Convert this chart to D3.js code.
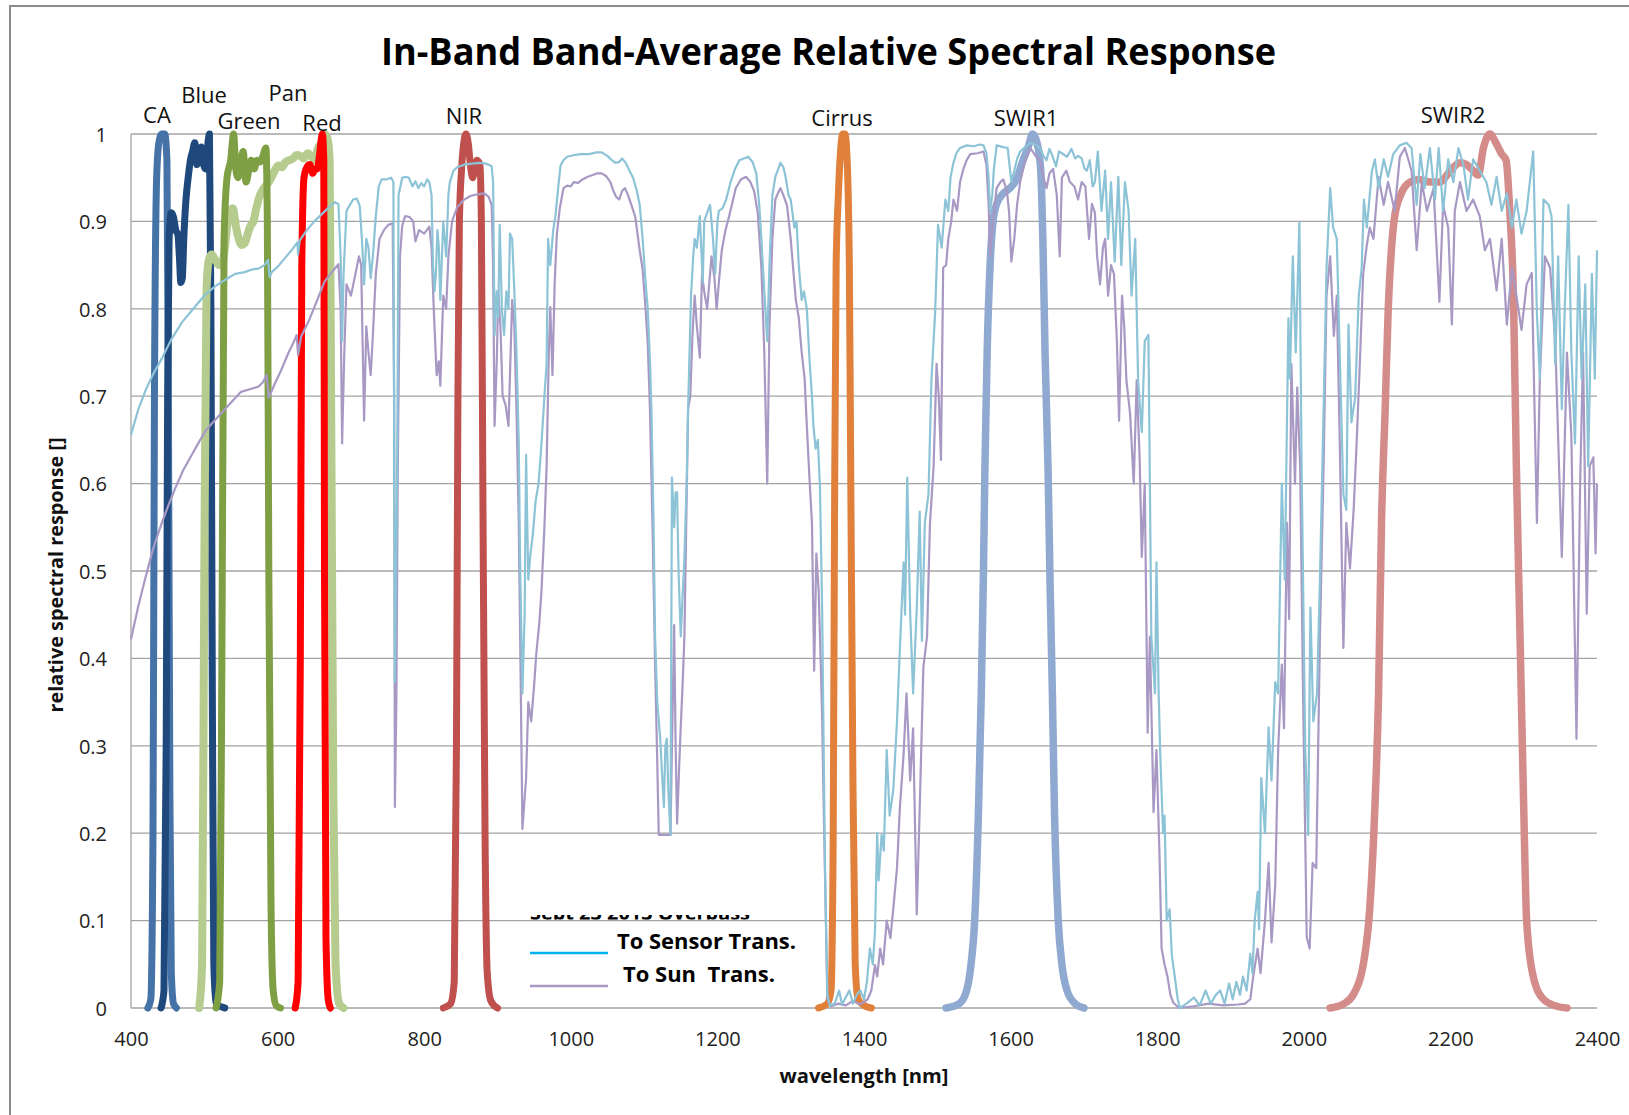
<!DOCTYPE html>
<html><head><meta charset="utf-8">
<script src="https://cdn.jsdelivr.net/npm/d3@7"></script>
<style>body{margin:0;background:#fff}svg{display:block}</style>
</head><body>
<svg id="c" width="1629" height="1115"></svg>
<script>
// ---------------- DATA ----------------
const xTickValues = [400,600,800,1000,1200,1400,1600,1800,2000,2200,2400];
const xTickLabels = ["400","600","800","1000","1200","1400","1600","1800","2000","2200","2400"];
const yTickValues = [0,0.1,0.2,0.3,0.4,0.5,0.6,0.7,0.8,0.9,1];
const yTickLabels = ["0","0.1","0.2","0.3","0.4","0.5","0.6","0.7","0.8","0.9","1"];
const bandNames = ["CA","Blue","Green","Pan","Red","NIR","Cirrus","SWIR1","SWIR2"];

const CA = [[423,0],[427,0.01],[430,0.2],[432,0.7],[435,0.95],[438,0.99],[442,1],[446,1],[449,0.97],[451,0.7],[453,0.25],[455,0.04],[458,0.005],[462,0]];
const Blue = [[441,0],[445,0.02],[448,0.3],[450,0.7],[452,0.88],[455,0.91],[458,0.905],[461,0.89],[464,0.885],[466,0.86],[468,0.83],[470,0.835],[472,0.88],[475,0.925],[478,0.95],[481,0.97],[484,0.98],[487,0.99],[490,0.965],[493,0.975],[496,0.985],[499,0.965],[502,0.96],[505,0.99],[507,1],[509,0.8],[511,0.35],[513,0.05],[516,0.005],[528,0]];
const Green = [[516,0],[521,0.03],[524,0.4],[527,0.88],[531,0.95],[536,0.97],[540,1],[543,0.96],[546,0.95],[550,0.97],[553,0.98],[557,0.945],[561,0.96],[564,0.97],[568,0.96],[572,0.97],[576,0.968],[580,0.975],[584,0.984],[586,0.9],[588,0.5],[591,0.12],[594,0.02],[598,0.003],[604,0]];
const Pan = [[493,0],[497,0.05],[500,0.5],[503,0.82],[506,0.855],[510,0.862],[515,0.856],[520,0.85],[524,0.85],[528,0.87],[532,0.9],[535,0.912],[539,0.915],[543,0.895],[547,0.88],[551,0.873],[555,0.875],[559,0.885],[563,0.895],[567,0.9],[571,0.915],[575,0.928],[579,0.935],[583,0.94],[588,0.945],[592,0.951],[596,0.958],[601,0.964],[606,0.962],[611,0.968],[616,0.97],[621,0.972],[626,0.976],[631,0.975],[636,0.972],[641,0.978],[646,0.975],[651,0.97],[655,0.984],[660,0.99],[664,1],[668,0.995],[671,0.97],[673,0.7],[676,0.25],[679,0.05],[684,0.005],[690,0]];
const Red = [[624,0],[628,0.03],[631,0.4],[633,0.85],[636,0.95],[640,0.962],[644,0.965],[648,0.955],[651,0.96],[654,0.96],[657,0.975],[659,0.99],[661,1],[663,0.97],[664,0.5],[666,0.08],[669,0.01],[672,0]];
const NIR = [[826,0],[836,0.005],[841,0.03],[844,0.3],[846,0.7],[848,0.9],[851,0.96],[854,0.99],[857,1],[860,0.99],[863,0.965],[866,0.95],[869,0.96],[872,0.97],[876,0.965],[878,0.9],[880,0.6],[883,0.2],[886,0.04],[891,0.008],[900,0]];
const Cirrus = [[1338,0],[1350,0.005],[1355,0.02],[1358,0.2],[1360,0.6],[1362,0.85],[1365,0.93],[1368,0.98],[1371,1],[1374,1],[1377,0.97],[1380,0.85],[1382,0.6],[1385,0.25],[1388,0.05],[1392,0.01],[1400,0.003],[1410,0]];
const SWIR1 = [[1512,0],[1530,0.005],[1540,0.02],[1546,0.05],[1551,0.1],[1556,0.22],[1560,0.36],[1563,0.5],[1565,0.62],[1568,0.75],[1572,0.85],[1576,0.9],[1581,0.92],[1590,0.932],[1599,0.938],[1608,0.948],[1617,0.97],[1624,0.985],[1630,1],[1636,0.99],[1641,0.96],[1644,0.88],[1647,0.75],[1651,0.62],[1654,0.48],[1657,0.36],[1660,0.22],[1665,0.1],[1670,0.05],[1677,0.02],[1688,0.005],[1700,0]];
const SWIR2 = [[2036,0],[2055,0.005],[2068,0.016],[2081,0.049],[2090,0.114],[2097,0.23],[2102,0.36],[2106,0.555],[2111,0.685],[2115,0.795],[2120,0.873],[2124,0.906],[2133,0.932],[2145,0.945],[2158,0.948],[2172,0.945],[2186,0.945],[2200,0.958],[2213,0.967],[2222,0.965],[2231,0.958],[2238,0.953],[2245,0.984],[2254,1],[2262,0.99],[2270,0.977],[2276,0.97],[2281,0.912],[2286,0.815],[2290,0.62],[2295,0.425],[2300,0.23],[2304,0.1],[2313,0.036],[2327,0.01],[2345,0.002],[2359,0]];

const toSensor = [[400,0.656],[410,0.685],[420,0.707],[430,0.725],[442,0.743],[455,0.765],[470,0.785],[485,0.8],[501,0.816],[515,0.826],[528,0.833],[542,0.84],[555,0.842],[565,0.845],[574,0.846],[582,0.85],[587,0.856],[589,0.836],[592,0.842],[600,0.848],[610,0.858],[620,0.868],[627,0.876],[628,0.862],[630,0.878],[640,0.89],[650,0.9],[660,0.908],[670,0.916],[678,0.922],[683,0.92],[686,0.86],[688,0.763],[690,0.84],[694,0.912],[698,0.918],[703,0.925],[708,0.926],[712,0.918],[715,0.88],[718,0.828],[721,0.88],[724,0.87],[727,0.835],[730,0.86],[734,0.906],[738,0.94],[742,0.948],[748,0.948],[755,0.95],[758,0.945],[760,0.373],[763,0.6],[765,0.93],[770,0.95],[775,0.951],[779,0.95],[784,0.94],[788,0.946],[792,0.938],[796,0.944],[800,0.94],[804,0.948],[807,0.945],[810,0.93],[812,0.85],[814,0.82],[816,0.84],[818,0.89],[820,0.87],[822,0.81],[826,0.9],[830,0.86],[833,0.93],[835,0.945],[840,0.958],[845,0.962],[855,0.965],[865,0.966],[875,0.967],[885,0.966],[892,0.963],[894,0.945],[896,0.77],[899,0.82],[901,0.79],[903,0.896],[906,0.8],[909,0.77],[912,0.82],[915,0.8],[917,0.886],[920,0.88],[923,0.82],[926,0.75],[929,0.646],[931,0.5],[934,0.36],[937,0.45],[939,0.633],[942,0.49],[945,0.52],[948,0.54],[952,0.58],[956,0.6],[960,0.646],[964,0.7],[967,0.737],[969,0.88],[972,0.85],[976,0.89],[979,0.906],[983,0.94],[986,0.964],[990,0.97],[995,0.974],[1005,0.976],[1014,0.977],[1025,0.977],[1035,0.979],[1042,0.979],[1050,0.975],[1056,0.97],[1061,0.967],[1066,0.968],[1070,0.972],[1075,0.967],[1080,0.958],[1085,0.95],[1090,0.935],[1094,0.919],[1098,0.88],[1102,0.83],[1105,0.8],[1108,0.74],[1110,0.685],[1113,0.55],[1115,0.425],[1118,0.35],[1122,0.308],[1125,0.26],[1127,0.23],[1129,0.3],[1131,0.308],[1133,0.25],[1136,0.198],[1138,0.607],[1141,0.55],[1143,0.59],[1145,0.59],[1147,0.5],[1150,0.425],[1153,0.48],[1155,0.516],[1158,0.6],[1160,0.685],[1162,0.75],[1164,0.815],[1167,0.86],[1169,0.88],[1172,0.87],[1176,0.906],[1180,0.83],[1182,0.9],[1186,0.91],[1190,0.919],[1194,0.88],[1197,0.84],[1200,0.9],[1202,0.912],[1207,0.915],[1212,0.925],[1218,0.945],[1224,0.96],[1230,0.97],[1236,0.972],[1242,0.974],[1248,0.968],[1253,0.955],[1257,0.92],[1260,0.88],[1264,0.82],[1268,0.763],[1271,0.85],[1275,0.93],[1279,0.951],[1283,0.96],[1286,0.967],[1290,0.962],[1293,0.951],[1297,0.93],[1300,0.925],[1305,0.893],[1308,0.9],[1311,0.85],[1315,0.81],[1318,0.82],[1322,0.8],[1326,0.737],[1329,0.7],[1331,0.666],[1334,0.64],[1337,0.65],[1340,0.594],[1343,0.45],[1345,0.295],[1347,0.15],[1350,0.016],[1353,0.003],[1360,0.005],[1366,0.02],[1370,0.004],[1375,0.012],[1380,0.02],[1385,0.005],[1390,0.015],[1395,0.02],[1400,0.01],[1404,0.03],[1408,0.068],[1412,0.05],[1415,0.088],[1418,0.2],[1420,0.146],[1424,0.198],[1427,0.18],[1431,0.295],[1435,0.22],[1440,0.25],[1445,0.328],[1449,0.412],[1454,0.51],[1456,0.45],[1459,0.607],[1463,0.451],[1467,0.36],[1472,0.458],[1476,0.568],[1479,0.42],[1483,0.555],[1488,0.588],[1492,0.718],[1497,0.795],[1501,0.896],[1506,0.87],[1511,0.925],[1515,0.912],[1518,0.95],[1522,0.967],[1526,0.978],[1531,0.984],[1540,0.987],[1550,0.986],[1558,0.988],[1563,0.987],[1567,0.978],[1570,0.95],[1572,0.912],[1575,0.93],[1577,0.958],[1581,0.987],[1590,0.985],[1596,0.984],[1601,0.945],[1605,0.958],[1609,0.972],[1613,0.98],[1620,0.985],[1627,0.99],[1634,0.988],[1640,0.984],[1645,0.975],[1649,0.97],[1653,0.983],[1657,0.975],[1662,0.963],[1666,0.98],[1670,0.978],[1677,0.974],[1683,0.983],[1688,0.972],[1692,0.975],[1697,0.972],[1701,0.96],[1704,0.958],[1708,0.97],[1712,0.94],[1715,0.945],[1719,0.98],[1724,0.912],[1729,0.958],[1733,0.88],[1737,0.945],[1742,0.854],[1747,0.951],[1751,0.85],[1756,0.945],[1761,0.912],[1765,0.815],[1770,0.88],[1774,0.718],[1779,0.659],[1783,0.763],[1788,0.77],[1790,0.6],[1792,0.425],[1797,0.36],[1799,0.51],[1802,0.36],[1804,0.295],[1808,0.2],[1810,0.22],[1813,0.1],[1817,0.113],[1820,0.06],[1824,0.036],[1828,0.01],[1831,0],[1840,0.005],[1850,0.012],[1858,0.003],[1866,0.02],[1873,0.005],[1880,0.015],[1886,0.02],[1892,0.005],[1898,0.028],[1903,0.01],[1908,0.03],[1913,0.015],[1917,0.036],[1922,0.02],[1927,0.062],[1930,0.04],[1933,0.1],[1937,0.133],[1939,0.09],[1942,0.263],[1947,0.2],[1952,0.321],[1956,0.26],[1961,0.373],[1965,0.36],[1970,0.6],[1974,0.49],[1979,0.789],[1981,0.72],[1985,0.86],[1989,0.75],[1994,0.899],[1997,0.62],[2002,0.295],[2006,0.198],[2009,0.458],[2013,0.328],[2018,0.36],[2022,0.49],[2027,0.685],[2031,0.847],[2036,0.938],[2040,0.893],[2045,0.88],[2049,0.75],[2054,0.588],[2058,0.57],[2061,0.782],[2065,0.67],[2070,0.698],[2075,0.815],[2079,0.847],[2082,0.925],[2086,0.893],[2093,0.958],[2097,0.971],[2102,0.938],[2109,0.971],[2115,0.951],[2122,0.977],[2131,0.987],[2140,0.99],[2147,0.984],[2154,0.919],[2159,0.977],[2165,0.938],[2172,0.984],[2179,0.925],[2184,0.984],[2190,0.912],[2197,0.971],[2204,0.945],[2211,0.984],[2218,0.964],[2224,0.925],[2231,0.971],[2240,0.958],[2249,0.945],[2256,0.919],[2263,0.951],[2270,0.912],[2277,0.932],[2284,0.893],[2290,0.925],[2297,0.886],[2304,0.912],[2313,0.98],[2318,0.795],[2322,0.72],[2327,0.925],[2334,0.919],[2338,0.906],[2343,0.737],[2347,0.86],[2352,0.685],[2356,0.8],[2361,0.919],[2365,0.75],[2370,0.646],[2375,0.86],[2379,0.72],[2384,0.828],[2388,0.62],[2393,0.84],[2397,0.72],[2400,0.867]];

const toSun = [[400,0.422],[410,0.46],[419,0.49],[430,0.525],[442,0.555],[451,0.575],[460,0.594],[471,0.615],[483,0.633],[493,0.648],[503,0.662],[515,0.673],[528,0.685],[540,0.696],[550,0.705],[562,0.708],[574,0.711],[580,0.716],[585,0.724],[588,0.698],[596,0.714],[605,0.73],[615,0.75],[622,0.762],[626,0.77],[628,0.747],[632,0.768],[644,0.789],[654,0.81],[664,0.831],[674,0.842],[683,0.851],[686,0.8],[688,0.646],[691,0.75],[694,0.828],[700,0.815],[705,0.835],[711,0.86],[714,0.85],[716,0.76],[718,0.672],[721,0.78],[724,0.75],[727,0.724],[730,0.77],[734,0.84],[739,0.88],[745,0.89],[751,0.896],[757,0.898],[759,0.7],[760,0.23],[762,0.35],[764,0.62],[767,0.86],[770,0.895],[774,0.906],[780,0.905],[785,0.9],[788,0.877],[793,0.89],[800,0.886],[807,0.894],[810,0.87],[813,0.8],[817,0.724],[820,0.74],[822,0.712],[826,0.815],[830,0.8],[833,0.86],[838,0.9],[845,0.916],[853,0.924],[863,0.929],[872,0.931],[882,0.932],[888,0.928],[892,0.919],[894,0.85],[896,0.666],[899,0.74],[901,0.82],[904,0.78],[907,0.7],[911,0.69],[915,0.666],[920,0.81],[923,0.78],[926,0.68],[929,0.555],[932,0.35],[934,0.205],[937,0.24],[939,0.263],[942,0.35],[946,0.328],[950,0.37],[953,0.406],[957,0.44],[960,0.477],[964,0.55],[967,0.62],[970,0.75],[972,0.802],[975,0.724],[978,0.83],[981,0.886],[985,0.915],[990,0.938],[995,0.941],[1000,0.94],[1004,0.945],[1010,0.944],[1016,0.948],[1023,0.951],[1030,0.953],[1036,0.955],[1042,0.955],[1048,0.952],[1054,0.945],[1058,0.935],[1062,0.928],[1066,0.925],[1070,0.935],[1074,0.938],[1078,0.93],[1083,0.918],[1088,0.905],[1094,0.867],[1098,0.845],[1102,0.8],[1105,0.76],[1108,0.685],[1112,0.53],[1115,0.393],[1118,0.28],[1120,0.198],[1125,0.198],[1130,0.198],[1136,0.198],[1138,0.3],[1141,0.438],[1143,0.3],[1145,0.211],[1148,0.28],[1150,0.321],[1153,0.38],[1155,0.425],[1158,0.58],[1160,0.685],[1163,0.7],[1166,0.77],[1169,0.815],[1172,0.78],[1176,0.744],[1179,0.84],[1182,0.82],[1186,0.8],[1192,0.86],[1196,0.835],[1199,0.8],[1203,0.84],[1206,0.867],[1211,0.89],[1216,0.906],[1220,0.92],[1225,0.938],[1232,0.948],[1239,0.951],[1245,0.945],[1250,0.935],[1255,0.91],[1260,0.847],[1264,0.75],[1268,0.6],[1271,0.78],[1275,0.88],[1279,0.925],[1283,0.933],[1286,0.938],[1290,0.93],[1295,0.918],[1300,0.88],[1304,0.84],[1307,0.81],[1311,0.79],[1315,0.75],[1319,0.72],[1322,0.666],[1326,0.6],[1329,0.555],[1332,0.386],[1335,0.52],[1338,0.48],[1340,0.425],[1343,0.33],[1345,0.23],[1348,0.1],[1350,0.01],[1355,0.002],[1365,0.005],[1375,0.003],[1385,0.008],[1395,0.004],[1405,0.01],[1410,0.02],[1415,0.049],[1418,0.036],[1422,0.068],[1426,0.05],[1431,0.1],[1436,0.08],[1440,0.114],[1445,0.16],[1449,0.23],[1454,0.29],[1458,0.36],[1463,0.26],[1467,0.32],[1472,0.107],[1477,0.26],[1481,0.39],[1486,0.425],[1490,0.555],[1495,0.62],[1499,0.737],[1502,0.7],[1505,0.627],[1508,0.847],[1512,0.85],[1515,0.88],[1519,0.9],[1522,0.925],[1527,0.912],[1531,0.945],[1536,0.961],[1540,0.97],[1545,0.977],[1555,0.978],[1563,0.98],[1567,0.965],[1570,0.92],[1572,0.86],[1576,0.9],[1581,0.938],[1586,0.945],[1590,0.948],[1595,0.935],[1598,0.91],[1601,0.854],[1605,0.88],[1609,0.92],[1613,0.945],[1620,0.97],[1627,0.984],[1634,0.975],[1640,0.97],[1645,0.95],[1649,0.938],[1653,0.955],[1658,0.96],[1663,0.93],[1667,0.86],[1670,0.95],[1676,0.958],[1681,0.945],[1687,0.94],[1692,0.925],[1697,0.945],[1702,0.94],[1707,0.88],[1711,0.92],[1715,0.91],[1718,0.86],[1722,0.828],[1726,0.87],[1729,0.88],[1733,0.815],[1737,0.85],[1741,0.84],[1745,0.763],[1748,0.672],[1752,0.815],[1755,0.78],[1758,0.718],[1763,0.68],[1768,0.6],[1772,0.718],[1776,0.63],[1779,0.516],[1783,0.6],[1787,0.315],[1790,0.425],[1795,0.224],[1799,0.295],[1803,0.18],[1806,0.068],[1810,0.05],[1814,0.036],[1818,0.015],[1822,0.006],[1830,0],[1850,0.002],[1870,0.005],[1890,0.003],[1910,0.004],[1920,0.005],[1927,0.01],[1931,0.036],[1937,0.068],[1941,0.04],[1947,0.1],[1952,0.166],[1956,0.075],[1961,0.14],[1965,0.295],[1970,0.393],[1973,0.32],[1977,0.555],[1980,0.445],[1983,0.737],[1988,0.6],[1991,0.71],[1995,0.62],[1999,0.36],[2004,0.081],[2008,0.068],[2012,0.166],[2017,0.16],[2022,0.425],[2027,0.62],[2031,0.815],[2036,0.86],[2041,0.769],[2045,0.815],[2049,0.65],[2054,0.412],[2058,0.555],[2063,0.503],[2068,0.57],[2072,0.645],[2077,0.75],[2081,0.84],[2086,0.873],[2090,0.893],[2095,0.88],[2102,0.951],[2109,0.919],[2115,0.945],[2124,0.912],[2131,0.974],[2138,0.984],[2147,0.958],[2154,0.867],[2161,0.945],[2168,0.912],[2177,0.938],[2185,0.808],[2190,0.919],[2197,0.893],[2202,0.782],[2206,0.912],[2213,0.945],[2222,0.912],[2231,0.925],[2240,0.906],[2247,0.867],[2254,0.88],[2263,0.821],[2270,0.88],[2277,0.782],[2284,0.847],[2290,0.815],[2297,0.776],[2304,0.828],[2311,0.841],[2318,0.555],[2322,0.72],[2329,0.86],[2336,0.847],[2343,0.763],[2352,0.516],[2359,0.75],[2365,0.655],[2372,0.308],[2377,0.6],[2381,0.75],[2386,0.451],[2390,0.62],[2395,0.63],[2398,0.52],[2400,0.6]];

const legendLabels = ["To Sensor Trans.","To Sun  Trans."];

// ---------------- LAYOUT / STYLE ----------------
const FONT = "'Open Sans', 'Noto Sans', sans-serif";
const svg = d3.select("#c");
const M = {left:131, right:1597, top:134, bottom:1008};
const x = d3.scaleLinear().domain([400,2400]).range([M.left, M.right]);
const y = d3.scaleLinear().domain([0,1]).range([M.bottom, M.top]);

const bandSeries = [
  {name:"CA", data:CA, color:"#4572a7", w:7},
  {name:"Blue", data:Blue, color:"#1f497d", w:7},
  {name:"Pan", data:Pan, color:"#b6cc8f", w:8},
  {name:"Green", data:Green, color:"#7f9f45", w:7},
  {name:"Red", data:Red, color:"#ff0000", w:7},
  {name:"NIR", data:NIR, color:"#c0504d", w:7},
  {name:"Cirrus", data:Cirrus, color:"#e0803a", w:7},
  {name:"SWIR1", data:SWIR1, color:"#8fa9d0", w:7.5},
  {name:"SWIR2", data:SWIR2, color:"#d48c8a", w:7.5}
];
const labelPos = {CA:[157,123],Blue:[204,103],Pan:[288,101],Green:[249,129],Red:[322,131],NIR:[464,124],Cirrus:[842,126],SWIR1:[1026,126],SWIR2:[1453,123]};

// frame
svg.append("rect").attr("x",10).attr("y",6).attr("width",1700).attr("height",1300)
  .attr("fill","none").attr("stroke","#8c8c8c").attr("stroke-width",2);

// gridlines
svg.append("g").selectAll("line").data(yTickValues).join("line")
  .attr("x1",M.left).attr("x2",M.right).attr("y1",d=>y(d)).attr("y2",d=>y(d))
  .attr("stroke","#a3a3a3").attr("stroke-width",1.3);
svg.append("line").attr("x1",M.left).attr("x2",M.left).attr("y1",M.top).attr("y2",M.bottom)
  .attr("stroke","#a3a3a3").attr("stroke-width",1.3);

// axes (labels only)
const xAxis = d3.axisBottom(x).tickValues(xTickValues).tickFormat((d,i)=>xTickLabels[i]).tickSize(0).tickPadding(0);
const gx = svg.append("g").attr("transform",`translate(0,${M.bottom})`).call(xAxis);
gx.select(".domain").remove();
gx.selectAll("text").attr("y",38).attr("dy",null).attr("font-family",FONT).attr("font-size",20).attr("fill","#222");

const yAxis = d3.axisLeft(y).tickValues(yTickValues).tickFormat((d,i)=>yTickLabels[i]).tickSize(0).tickPadding(0);
const gy = svg.append("g").attr("transform",`translate(${M.left},0)`).call(yAxis);
gy.select(".domain").remove();
gy.selectAll("text").attr("x",-24).attr("dy","0.36em").attr("font-family",FONT).attr("font-size",20).attr("fill","#222");

// bands
const lineB = d3.line().x(d=>x(d[0])).y(d=>y(d[1])).curve(d3.curveMonotoneX);
const plot = svg.append("g");
plot.selectAll("path.band").data(bandSeries).join("path").attr("class","band")
  .attr("d",d=>lineB(d.data)).attr("fill","none").attr("stroke",d=>d.color)
  .attr("stroke-width",d=>d.w).attr("stroke-linejoin","round").attr("stroke-linecap","round");

// transmission curves
const lineT = d3.line().x(d=>x(d[0])).y(d=>y(d[1]));
plot.append("path").attr("d",lineT(toSun)).attr("fill","none").attr("stroke","#a898c4").attr("stroke-width",2.2).attr("stroke-linejoin","round");
plot.append("path").attr("d",lineT(toSensor)).attr("fill","none").attr("stroke","#8cc3d6").attr("stroke-width",2.2).attr("stroke-linejoin","round");

// band labels
svg.append("g").selectAll("text").data(bandNames).join("text")
  .attr("x",d=>labelPos[d][0]).attr("y",d=>labelPos[d][1]).attr("text-anchor","middle")
  .attr("font-family",FONT).attr("font-size",22).attr("fill","#111").text(d=>d);

// title
svg.append("text").attr("x",381).attr("y",65).attr("textLength",895).attr("lengthAdjust","spacingAndGlyphs")
  .attr("font-family",FONT).attr("font-weight","bold").attr("font-size",38).attr("fill","#000")
  .text("In-Band Band-Average Relative Spectral Response");

// axis titles
svg.append("text").attr("x",864).attr("y",1083).attr("text-anchor","middle")
  .attr("font-family",FONT).attr("font-weight","bold").attr("font-size",19).attr("fill","#111")
  .attr("textLength",169).attr("lengthAdjust","spacingAndGlyphs").text("wavelength [nm]");
svg.append("text").attr("transform","translate(63,575) rotate(-90)").attr("text-anchor","middle")
  .attr("font-family",FONT).attr("font-weight","bold").attr("font-size",19).attr("fill","#111")
  .attr("textLength",275).attr("lengthAdjust","spacingAndGlyphs").text("relative spectral response []");

// legend
const defs = svg.append("defs");
defs.append("clipPath").attr("id","cut").append("rect").attr("x",520).attr("y",915).attr("width",260).attr("height",4.5);
svg.append("text").attr("x",530).attr("y",919.5).attr("clip-path","url(#cut)")
  .attr("font-family",FONT).attr("font-weight","bold").attr("font-size",22).attr("fill","#000")
  .attr("textLength",220).attr("lengthAdjust","spacingAndGlyphs").text("Sept 23 2013 Overpass");
const legColors = ["#00b0f0","#a898c4"];
const legY = [953,986];
const legTX = [617,623];
const legTY = [949,982];
const legW = [179,152];
legendLabels.forEach((t,i)=>{
  svg.append("line").attr("x1",530).attr("x2",608).attr("y1",legY[i]).attr("y2",legY[i])
    .attr("stroke",legColors[i]).attr("stroke-width",2.5);
  svg.append("text").attr("x",legTX[i]).attr("y",legTY[i]).attr("font-family",FONT)
    .attr("font-weight","bold").attr("font-size",22).attr("fill","#000")
    .attr("textLength",legW[i]).attr("lengthAdjust","spacingAndGlyphs")
    .style("white-space","pre").attr("xml:space","preserve").text(t);
});
</script>
</body></html>
